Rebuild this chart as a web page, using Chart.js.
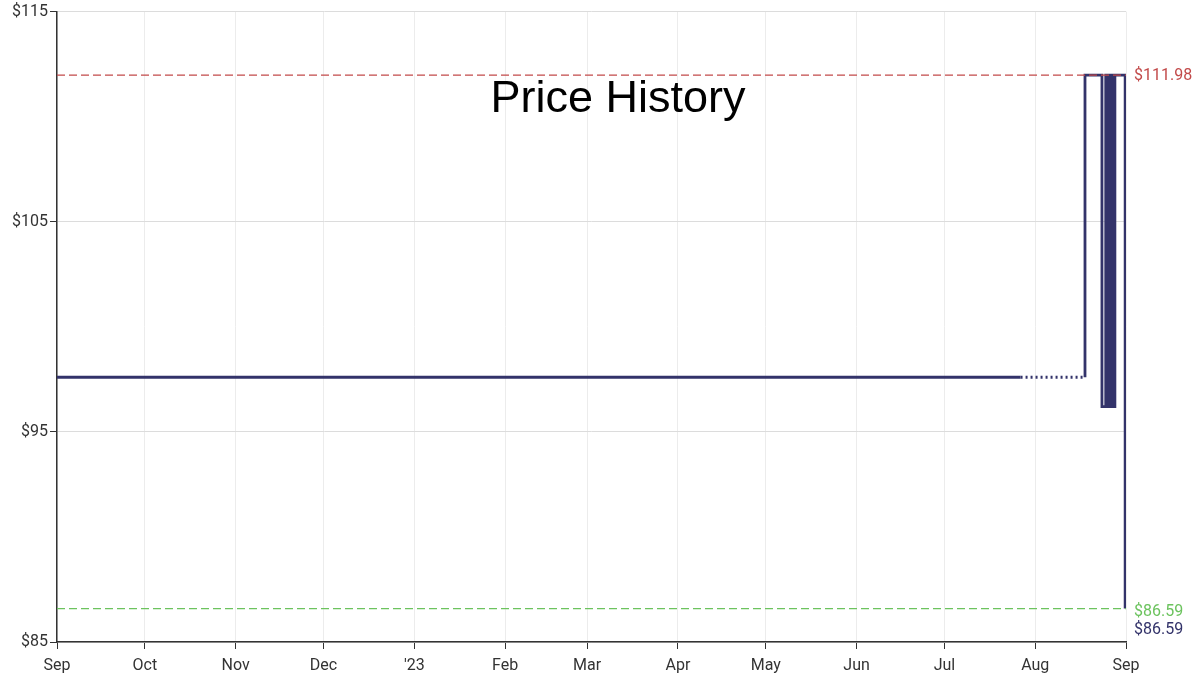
<!DOCTYPE html>
<html>
<head>
<meta charset="utf-8">
<script src="https://cdn.jsdelivr.net/npm/chart.js@4.4.0/dist/chart.umd.min.js"></script>
<style>
  html, body { margin: 0; padding: 0; background: #fff; }
  #wrap { width: 1200px; height: 681px; }
</style>
</head>
<body>
<div id="wrap"><canvas id="priceChart" width="1200" height="681"></canvas></div>
<script>
// Datos del historial de precios (fecha, precio)
const priceDates = [
    '2022-09-01T00:00', '2023-07-27T00:00', '2023-08-18T00:00', '2023-08-18T00:00',
    '2023-08-23T19:00', '2023-08-25T02:00', '2023-08-25T12:00', '2023-08-25T21:00',
    '2023-08-26T07:00', '2023-08-26T17:00', '2023-08-27T02:00', '2023-08-27T12:00',
    '2023-08-27T21:00', '2023-08-28T05:00', '2023-08-31T17:00'
];
const priceValues = [
    97.6, 97.6, 97.6, 111.98,
    96.2, 111.98, 96.2, 111.98,
    96.2, 111.98, 96.2, 111.98,
    96.2, 111.98, 86.59
];

// Precio máximo, mínimo y actual
const highestPrice = 111.98;
const lowestPrice = 86.59;
const currentPrice = 86.59;

// Marcas del eje X (inicio de cada mes)
const monthDates = [
    '2022-09-01', '2022-10-01', '2022-11-01', '2022-12-01', '2023-01-01', '2023-02-01',
    '2023-03-01', '2023-04-01', '2023-05-01', '2023-06-01', '2023-07-01', '2023-08-01', '2023-09-01'
];
const monthLabels = ['Sep', 'Oct', 'Nov', 'Dec', "'23", 'Feb', 'Mar', 'Apr', 'May', 'Jun', 'Jul', 'Aug', 'Sep'];

// Marcas del eje Y
const priceTicks = [85, 95, 105, 115];

const START = Date.parse('2022-09-01T00:00Z');
function toDay(s) {
    const iso = s.length === 10 ? s + 'T00:00Z' : s + 'Z';
    return (Date.parse(iso) - START) / 86400000;
}

const monthDays = monthDates.map(toDay);
const xMin = monthDays[0];
const xMax = monthDays[monthDays.length - 1];

const pricePoints = priceDates.map((d, i) => ({ x: toDay(d), y: priceValues[i] }));

const NAVY = '#33336a';
const RED = '#c24a4a';
const GREEN = '#6cc35e';

// Título y etiquetas de la derecha
const overlayPlugin = {
    id: 'overlay',
    afterDraw(chart) {
        const c = chart.ctx;
        const y = chart.scales.y;
        const right = chart.chartArea.right;
        c.save();
        c.fillStyle = '#000';
        c.font = '45px "Liberation Sans", Arial, sans-serif';
        c.textAlign = 'center';
        c.textBaseline = 'alphabetic';
        c.fillText('Price History', 618, 112);

        c.font = '16px Roboto, sans-serif';
        c.textAlign = 'left';
        c.textBaseline = 'middle';
        c.fillStyle = RED;
        c.fillText('$' + highestPrice.toFixed(2), right + 8, y.getPixelForValue(highestPrice) + 1);
        c.fillStyle = GREEN;
        c.fillText('$' + lowestPrice.toFixed(2), right + 8, y.getPixelForValue(lowestPrice) + 3);
        c.fillStyle = NAVY;
        c.fillText('$' + currentPrice.toFixed(2), right + 8, y.getPixelForValue(lowestPrice) + 21);
        c.restore();
    }
};

const ctx = document.getElementById('priceChart').getContext('2d');
const chart = new Chart(ctx, {
    type: 'line',
    data: {
        datasets: [
            {
                label: 'Highest',
                data: [{ x: xMin, y: highestPrice }, { x: xMax, y: highestPrice }],
                borderColor: RED,
                borderWidth: 1.2,
                borderDash: [8, 4],
                pointRadius: 0
            },
            {
                label: 'Lowest',
                data: [{ x: xMin, y: lowestPrice }, { x: xMax, y: lowestPrice }],
                borderColor: GREEN,
                borderWidth: 1.2,
                borderDash: [8, 4],
                pointRadius: 0
            },
            {
                label: 'Price',
                data: pricePoints,
                borderColor: NAVY,
                borderWidth: 2.8,
                stepped: 'before',
                pointRadius: 0,
                segment: {
                    // tramo sin datos: punteado
                    borderDash: s => s.p0DataIndex === 1 ? [2, 3] : undefined
                }
            }
        ]
    },
    options: {
        responsive: false,
        animation: false,
        layout: { padding: { top: 9, right: 74, left: 0, bottom: 0 } },
        plugins: {
            legend: { display: false },
            tooltip: { enabled: false }
        },
        scales: {
            x: {
                type: 'linear',
                min: xMin,
                max: xMax,
                afterBuildTicks: scale => {
                    scale.ticks = monthDays.map(v => ({ value: v }));
                },
                afterFit: scale => { scale.height = 39; },
                ticks: {
                    autoSkip: false,
                    maxRotation: 0,
                    color: '#333',
                    font: { family: 'Roboto', size: 16 },
                    padding: 7,
                    callback: (v, i) => monthLabels[i]
                },
                grid: { color: '#ececec', tickColor: '#333', tickLength: 7, lineWidth: 1 },
                border: { color: '#333', width: 1.5 }
            },
            y: {
                min: 85,
                max: 115,
                afterBuildTicks: scale => {
                    scale.ticks = priceTicks.map(v => ({ value: v }));
                },
                afterFit: scale => { scale.width = 57; },
                ticks: {
                    color: '#333',
                    font: { family: 'Roboto', size: 16 },
                    padding: 2,
                    callback: v => '$' + v
                },
                grid: { color: '#dcdcdc', tickColor: '#333', tickLength: 7 },
                border: { color: '#333', width: 1.5 }
            }
        }
    },
    plugins: [overlayPlugin]
});
</script>
</body>
</html>
